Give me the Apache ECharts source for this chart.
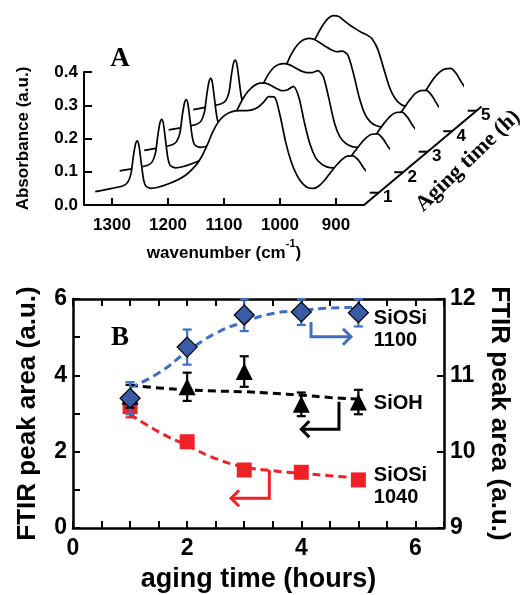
<!DOCTYPE html>
<html><head><meta charset="utf-8">
<script src="https://cdn.jsdelivr.net/npm/echarts@6/dist/echarts.min.js"></script>
<style>html,body{margin:0;padding:0;background:#fff}#c{width:525px;height:595px}</style>
</head><body><div id="c"></div>
<script>
// ---------- Panel A data: FTIR spectra (absorbance vs wavenumber) ----------
const wavenumbers = [1330,1300,1280,1272,1266,1262,1258,1255,1252,1248,1244,1240,1230,1200,
  1170,1150,1140,1130,1120,1110,1100,1090,1080,1070,1060,1050,1040,1030,1020,1010,1000,990,980,970,960,950,
  940,930,920,910,900,890,880,870,860,850,840,827];
const agingHoursA = [1,2,3,4,5];
const absorbance1h = [0.040,0.050,0.058,0.068,0.095,0.145,0.183,0.193,0.180,0.130,0.080,0.058,0.050,0.063,
  0.088,0.12,0.145,0.18,0.22,0.25,0.268,0.278,0.283,0.284,0.284,0.286,0.293,0.308,0.326,0.325,0.27,0.19,0.13,0.09,0.065,0.052,
  0.05,0.058,0.075,0.097,0.118,0.136,0.147,0.148,0.135,0.11,0.094,0.09];
const absorbance2h = [0.041,0.050,0.058,0.068,0.096,0.147,0.186,0.196,0.183,0.131,0.080,0.058,0.050,0.063,
  0.088,0.12,0.15,0.185,0.225,0.258,0.282,0.297,0.305,0.305,0.298,0.289,0.282,0.285,0.295,0.262,0.185,0.12,0.08,0.062,0.053,0.05,
  0.052,0.06,0.078,0.1,0.122,0.14,0.151,0.152,0.138,0.112,0.094,0.09];
const absorbance3h = [0.041,0.050,0.058,0.068,0.095,0.146,0.184,0.194,0.181,0.130,0.080,0.058,0.050,0.063,
  0.088,0.12,0.152,0.19,0.232,0.265,0.288,0.299,0.302,0.298,0.289,0.280,0.275,0.275,0.281,0.262,0.195,0.122,0.08,0.062,0.053,0.05,
  0.053,0.062,0.08,0.103,0.126,0.145,0.155,0.156,0.141,0.114,0.095,0.088];
const absorbance4h = [0.041,0.050,0.058,0.068,0.096,0.147,0.186,0.196,0.183,0.131,0.080,0.058,0.050,0.063,
  0.088,0.12,0.153,0.192,0.236,0.272,0.297,0.311,0.316,0.313,0.303,0.292,0.282,0.276,0.278,0.266,0.21,0.14,0.09,0.065,0.054,0.05,
  0.053,0.063,0.082,0.106,0.13,0.15,0.159,0.16,0.144,0.116,0.096,0.087];
const absorbance5h = [0.040,0.050,0.058,0.067,0.093,0.142,0.180,0.189,0.177,0.128,0.079,0.058,0.050,0.063,
  0.088,0.12,0.152,0.19,0.228,0.26,0.29,0.313,0.323,0.32,0.307,0.294,0.283,0.273,0.265,0.252,0.22,0.165,0.11,0.075,0.057,0.05,
  0.053,0.064,0.085,0.11,0.135,0.153,0.163,0.164,0.148,0.12,0.097,0.085];
const wavenumberTicks = [900,1000,1100,1200,1300];

// ---------- Panel B data: FTIR peak areas vs aging time ----------
const agingTime = [1,2,3,4,5];
const siosi1100 = [10.70,11.37,11.79,11.83,11.82];      // right axis
const siosi1100Err = [0.21,0.23,0.21,0.17,0.18];
const sioh = [3.45,3.70,4.10,3.24,3.30];                // left axis
const siohErr = [0.30,0.37,0.40,0.31,0.32];
const siosi1040 = [3.18,2.26,1.52,1.46,1.26];           // left axis
const siosi1040Err = [0.28,0.15,0.10,0.10,0.08];
const fitTime = [1,1.5,2,2.5,3,3.5,4,4.5,5];
const fit1100 = [10.84,11.03,11.31,11.55,11.70,11.81,11.85,11.88,11.89];
const fitSiOH = [3.74,3.67,3.62,3.59,3.57,3.53,3.48,3.42,3.38];
const fit1040 = [2.98,2.52,2.16,1.82,1.60,1.50,1.43,1.37,1.31];

const FONT = '"Liberation Sans", Arial, Helvetica, sans-serif';
const SERIF = '"Liberation Serif", "Times New Roman", serif';
const BLUE = '#3f6fc0', BLUEFILL = '#3a5ca6', RED = '#ee2226';

const chart = echarts.init(document.getElementById('c'));
const DX = 24.5, DY = 20.5;
const spectra = [absorbance1h, absorbance2h, absorbance3h, absorbance4h, absorbance5h];

const grids = [], xAxes = [], yAxes = [], series = [];
for (let k = 0; k < 5; k++) {
  grids.push({left: 84 + DX * k, top: 72 - DY * k, width: 280, height: 133, outerBoundsMode: 'none', containLabel: false});
  const front = k === 0;
  xAxes.push({
    gridIndex: k, type: 'value', min: 850, max: 1350, inverse: true, show: front, z: 20,
    axisLine: {show: true, onZero: false, lineStyle: {color: '#000', width: 2}},
    axisTick: {show: true, inside: true, length: 7, customValues: wavenumberTicks, lineStyle: {color: '#000', width: 2}},
    axisLabel: {show: true, customValues: wavenumberTicks, formatter: v => String(v), fontSize: 17, fontWeight: 'bold', color: '#000', fontFamily: FONT, margin: 12},
    splitLine: {show: false},
    name: front ? '{b|wavenumber (cm}{s|-1}{b|)}' : '',
    nameLocation: 'middle', nameGap: 33,
    nameTextStyle: {rich: {
      b: {fontSize: 17, fontWeight: 'bold', fontFamily: FONT, color: '#000', verticalAlign: 'bottom', lineHeight: 24},
      s: {fontSize: 11, fontWeight: 'bold', fontFamily: FONT, color: '#000', verticalAlign: 'top', lineHeight: 24}
    }}
  });
  yAxes.push({
    gridIndex: k, type: 'value', min: 0, max: 0.4, interval: 0.1, show: front, z: 20,
    axisLine: {show: true, onZero: false, lineStyle: {color: '#000', width: 2}},
    axisTick: {show: true, inside: true, length: 8, lineStyle: {color: '#000', width: 2}},
    axisLabel: {formatter: v => v.toFixed(1), fontSize: 17, fontWeight: 'bold', color: '#000', fontFamily: FONT, margin: 6},
    splitLine: {show: false},
    name: front ? 'Absorbance (a.u.)' : '', nameLocation: 'middle', nameGap: 52, nameRotate: 90,
    nameTextStyle: {fontSize: 17, fontWeight: 'bold', fontFamily: FONT, color: '#000'}
  });
}
for (let k = 4; k >= 0; k--) {
  series.push({
    type: 'line', xAxisIndex: k, yAxisIndex: k, silent: true, clip: false,
    data: wavenumbers.map((w, i) => [w, spectra[k][i]]),
    symbol: 'none', smooth: 0.25, z: 5 + (4 - k),
    lineStyle: {color: '#000', width: 1.7},
    areaStyle: {color: '#fff', opacity: 1, origin: 'start'}
  });
}

// Panel B grid and axes (grid index 5)
grids.push({left: 73, top: 299, width: 371, height: 229, outerBoundsMode: 'none', containLabel: false});
const axLine = {show: true, onZero: false, lineStyle: {color: '#000', width: 2.5}};
const axTick = {show: true, inside: true, length: 7, lineStyle: {color: '#000', width: 2}};
const bLabel = {fontSize: 23, fontWeight: 'bold', color: '#000', fontFamily: FONT};
const bName = {fontSize: 26, fontWeight: 'bold', color: '#000', fontFamily: FONT};
xAxes.push({gridIndex: 5, type: 'value', position: 'bottom', min: 0, max: 6.5, interval: 0.5,
  axisLine: axLine, axisTick: axTick, splitLine: {show: false},
  axisLabel: Object.assign({margin: 9, formatter: v => (Math.abs(v % 2) < 1e-9 ? String(v) : '')}, bLabel),
  name: 'aging time (hours)', nameLocation: 'middle', nameGap: 38,
  nameTextStyle: Object.assign({}, bName, {fontSize: 27})});
xAxes.push({gridIndex: 5, type: 'value', position: 'top', min: 0, max: 6.5, interval: 0.5,
  axisLine: axLine, axisTick: axTick, splitLine: {show: false}, axisLabel: {show: false}});
yAxes.push({gridIndex: 5, type: 'value', position: 'left', min: 0, max: 6, interval: 1,
  axisLine: axLine, axisTick: axTick, splitLine: {show: false},
  axisLabel: Object.assign({margin: 6, formatter: v => (v % 2 === 0 ? String(v) : '')}, bLabel),
  name: 'FTIR peak area (a.u.)', nameLocation: 'middle', nameGap: 32, nameRotate: 90, nameTextStyle: bName});
yAxes.push({gridIndex: 5, type: 'value', position: 'right', min: 9, max: 12, interval: 1,
  axisLine: axLine, axisTick: axTick, splitLine: {show: false},
  axisLabel: Object.assign({margin: 6}, bLabel),
  name: 'FTIR peak area (a.u.)', nameLocation: 'middle', nameGap: 42, nameRotate: -90, nameTextStyle: bName});

function fitLine(vals, color, yIdx) {
  return {type: 'line', xAxisIndex: 5, yAxisIndex: yIdx, silent: true, symbol: 'none', smooth: true, z: 3,
    data: fitTime.map((x, i) => [x, vals[i]]), lineStyle: {color: color, width: 3, type: [8, 5]}};
}
function errorBars(vals, errs, color, yIdx, z) {
  return {type: 'custom', xAxisIndex: 5, yAxisIndex: yIdx, silent: true, z: z,
    data: agingTime.map((x, i) => [x, vals[i] - errs[i], vals[i] + errs[i]]),
    encode: {x: 0, y: [1, 2]},
    renderItem: (params, api) => {
      const x = api.value(0);
      const lo = api.coord([x, api.value(1)]), hi = api.coord([x, api.value(2)]);
      const hw = 4.5, st = {stroke: color, lineWidth: 2.2};
      return {type: 'group', children: [
        {type: 'line', shape: {x1: lo[0], y1: lo[1], x2: hi[0], y2: hi[1]}, style: st},
        {type: 'line', shape: {x1: lo[0] - hw, y1: lo[1], x2: lo[0] + hw, y2: lo[1]}, style: st},
        {type: 'line', shape: {x1: hi[0] - hw, y1: hi[1], x2: hi[0] + hw, y2: hi[1]}, style: st}
      ]};
    }};
}
function markers(vals, symbol, size, style, yIdx, z) {
  return {type: 'scatter', xAxisIndex: 5, yAxisIndex: yIdx, silent: true, z: z, symbol: symbol, symbolSize: size,
    data: agingTime.map((x, i) => [x, vals[i]]), itemStyle: Object.assign({opacity: 1}, style)};
}
series.push(fitLine(fit1040, RED, 5), fitLine(fitSiOH, '#000', 5), fitLine(fit1100, BLUE, 6));
series.push(errorBars(siosi1040, siosi1040Err, RED, 5, 4), markers(siosi1040, 'rect', 15, {color: RED}, 5, 5));
series.push(errorBars(sioh, siohErr, '#000', 5, 6), markers(sioh, 'triangle', 17, {color: '#000'}, 5, 7));
series.push(errorBars(siosi1100, siosi1100Err, BLUE, 6, 8), markers(siosi1100, 'diamond', 20, {color: BLUEFILL, borderColor: '#000', borderWidth: 1.2}, 6, 9));

chart.setOption({animation: false, backgroundColor: '#fff', grid: grids, xAxis: xAxes, yAxis: yAxes, series: series});

// ---------- annotations (graphic) ----------
const g = [];
const origin = chart.convertToPixel({xAxisIndex: 0, yAxisIndex: 0}, [850, 0]);
const depthPt = t => [origin[0] + DX * (t - 0.4), origin[1] - DY * (t - 0.4)];
const a0 = depthPt(0.4), a1 = depthPt(5.2);
g.push({type: 'line', z: 100, shape: {x1: a0[0], y1: a0[1], x2: a1[0], y2: a1[1]}, style: {stroke: '#000', lineWidth: 2}});
agingHoursA.forEach(t => {
  const p = depthPt(t);
  g.push({type: 'line', z: 100, shape: {x1: p[0] - 9, y1: p[1], x2: p[0], y2: p[1]}, style: {stroke: '#000', lineWidth: 2}});
  g.push({type: 'text', z: 100, x: p[0] + 9, y: p[1] + 5, style: {text: String(t), fontSize: 17, fontWeight: 'bold', fontFamily: FONT, fill: '#000', align: 'center', verticalAlign: 'middle'}});
});
g.push({type: 'text', z: 100, x: 468, y: 161, rotation: 44 * Math.PI / 180,
  style: {text: 'Aging time (h)', fontSize: 22, fontWeight: 'bold', fontFamily: SERIF, fill: '#000', align: 'center', verticalAlign: 'middle'}});
g.push({type: 'text', z: 100, x: 120, y: 59, style: {text: 'A', fontSize: 27, fontWeight: 'bold', fontFamily: SERIF, fill: '#000', align: 'center', verticalAlign: 'middle'}});
g.push({type: 'text', z: 100, x: 120, y: 338, style: {text: 'B', fontSize: 27, fontWeight: 'bold', fontFamily: SERIF, fill: '#000', align: 'center', verticalAlign: 'middle'}});

const toPx = p => chart.convertToPixel({xAxisIndex: 5, yAxisIndex: 5}, p);
function arrow(pts, color, dir) {
  const px = pts.map(toPx);
  g.push({type: 'polyline', z: 50, shape: {points: px}, style: {stroke: color, lineWidth: 3, fill: null}});
  const tip = px[px.length - 1], s = 8;
  g.push({type: 'polyline', z: 50, shape: {points: [[tip[0] - dir * s, tip[1] - s], tip, [tip[0] - dir * s, tip[1] + s]]},
    style: {stroke: color, lineWidth: 3, fill: null}});
}
arrow([[4.17, 5.40], [4.17, 5.01], [4.87, 5.01]], BLUE, 1);
arrow([[4.66, 3.31], [4.66, 2.59], [4.00, 2.59]], '#000', -1);
arrow([[3.44, 1.52], [3.44, 0.78], [2.77, 0.78]], RED, -1);

function label(txt, x, y) {
  const p = toPx([x, y]);
  g.push({type: 'text', z: 50, x: p[0], y: p[1], style: {text: txt, fontSize: 20, fontWeight: 'bold', fontFamily: FONT, fill: '#000', align: 'left', verticalAlign: 'middle', lineHeight: 22}});
}
label('SiOSi\n1100', 5.27, 5.21);
label('SiOH', 5.27, 3.27);
label('SiOSi\n1040', 5.27, 1.10);

chart.setOption({graphic: g});
</script></body></html>
